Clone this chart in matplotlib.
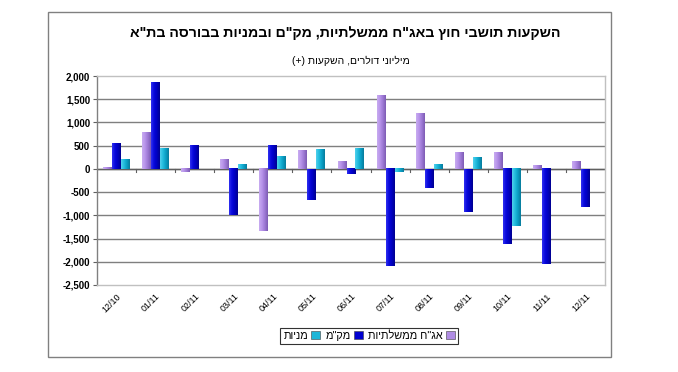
import matplotlib
matplotlib.use("Agg")
import matplotlib.pyplot as plt
import numpy as np
from matplotlib.patches import Rectangle, Patch
from matplotlib.colors import LinearSegmentedColormap

plt.rcParams['font.family'] = ['Liberation Sans', 'DejaVu Sans']

# ---------------- data ----------------
months = ["12/10", "01/11", "02/11", "03/11", "04/11", "05/11", "06/11",
          "07/11", "08/11", "09/11", "10/11", "11/11", "12/11"]
gov_bonds = [40, 785, -65, 210, -1335, 405, 165, 1585, 1200, 358, 345, 72, 155]
makam = [555, 1855, 500, -1000, 515, -665, -118, -2095, -405, -920, -1615, -2050, -818]
stocks = [205, 450, 0, 105, 272, 430, 452, -65, 100, 258, -1235, 0, 0]

title = 'השקעות תושבי חוץ באג"ח ממשלתיות, מק"ם ובמניות בבורסה בת"א'
subtitle = 'מיליוני דולרים, השקעות (+)'
series_names = ['אג"ח ממשלתיות', 'מק"מ', 'מניות']
yticks = [2000, 1500, 1000, 500, 0, -500, -1000, -1500, -2000, -2500]


def visual(s):
    """Logical-order Hebrew -> visual order for left-to-right rendering."""
    mirror = {'(': ')', ')': '('}
    return ''.join(mirror.get(c, c) for c in reversed(s))


colors = ['#B08CE4', '#0000D0', '#1CB6D8']
grads = [
    ['#C8ACF0', '#B894EA', '#9C78D4', '#7E5CB4'],
    ['#3030F0', '#0808DC', '#0000C0', '#000090'],
    ['#50D0EC', '#22BCDE', '#0A9EC4', '#087C9C'],
]

fig = plt.figure(figsize=(6.78, 3.72), dpi=100)
W, H = 678, 372
ax = fig.add_axes([97 / W, 1 - 285 / H, (605 - 97) / W, (285 - 76) / H])

x = np.arange(len(months))
bw = 0.23
series = [gov_bonds, makam, stocks]
offsets = [-bw, 0, bw]

ax.set_xlim(-0.5, len(months) - 0.5)
ax.set_ylim(-2500, 2000)

# grid
for v in yticks:
    if v in (2000, -2500):
        continue
    ax.axhline(v, color='#7F7F7F', lw=1.0, zorder=1)
ax.axhline(0, color='#606060', lw=1.0, zorder=1)

for vals, off, col, g in zip(series, offsets, colors, grads):
    bars = ax.bar(x + off, vals, width=bw, color=col, zorder=2, linewidth=0)
    cmap = LinearSegmentedColormap.from_list('g', g)
    for b in bars:
        h = b.get_height()
        if h == 0:
            continue
        x0 = b.get_x()
        x1 = x0 + b.get_width()
        y0 = min(0, h)
        y1 = max(0, h)
        grad = np.linspace(0, 1, 32).reshape(1, -1)
        ax.imshow(grad, cmap=cmap, extent=[x0, x1, y0, y1], aspect='auto',
                  zorder=3, interpolation='bilinear')

ax.set_xlim(-0.5, len(months) - 0.5)
ax.set_ylim(-2500, 2000)

# small ticks on zero line between categories
tick_len = 60
for bnd in np.arange(0.5, len(months) - 0.5, 1.0):
    ax.plot([bnd, bnd], [0, -tick_len], color='#606060', lw=0.8, zorder=4)

ax.set_yticks(yticks)
ax.set_yticklabels([f"{v:,}" for v in yticks], fontsize=7, fontweight='bold')
ax.tick_params(axis='y', length=3, width=0.8, color='#606060', pad=2)

ax.set_xticks(x)
ax.set_xticklabels(months, rotation=45, ha='right', va='top',
                   rotation_mode='anchor', fontsize=6.5)
ax.tick_params(axis='x', length=0, pad=5)

for side in ('top', 'right', 'bottom'):
    ax.spines[side].set_color('#C0C0C0')
    ax.spines[side].set_linewidth(1.0)
ax.spines['left'].set_color('#808080')
ax.spines['left'].set_linewidth(1.0)

# outer chart frame
fig.patches.append(Rectangle((48 / W, 1 - 357 / H), (611 - 48) / W, (357 - 12) / H,
                             transform=fig.transFigure, fill=False,
                             edgecolor='#808080', lw=1.0))

fig.text(345 / W, 1 - 33 / H, visual(title), ha='center', va='center',
         fontsize=10.2, fontweight='bold')
fig.text(351 / W, 1 - 61 / H, visual(subtitle), ha='center', va='center',
         fontsize=7.5)

handles = [Patch(facecolor=colors[i], edgecolor='#404040', linewidth=0.4) for i in (2, 1, 0)]
labels = [visual(series_names[i]) for i in (2, 1, 0)]
leg = fig.legend(handles, labels, loc='center', bbox_to_anchor=(369 / W, 1 - 336 / H),
                 ncol=3, markerfirst=False, fontsize=7.8, frameon=True,
                 fancybox=False, edgecolor='black', handlelength=0.8,
                 handleheight=0.8, handletextpad=0.3, columnspacing=0.5,
                 borderpad=0.3, borderaxespad=0)
leg.get_frame().set_linewidth(0.8)

fig.savefig('out.png', dpi=100)
